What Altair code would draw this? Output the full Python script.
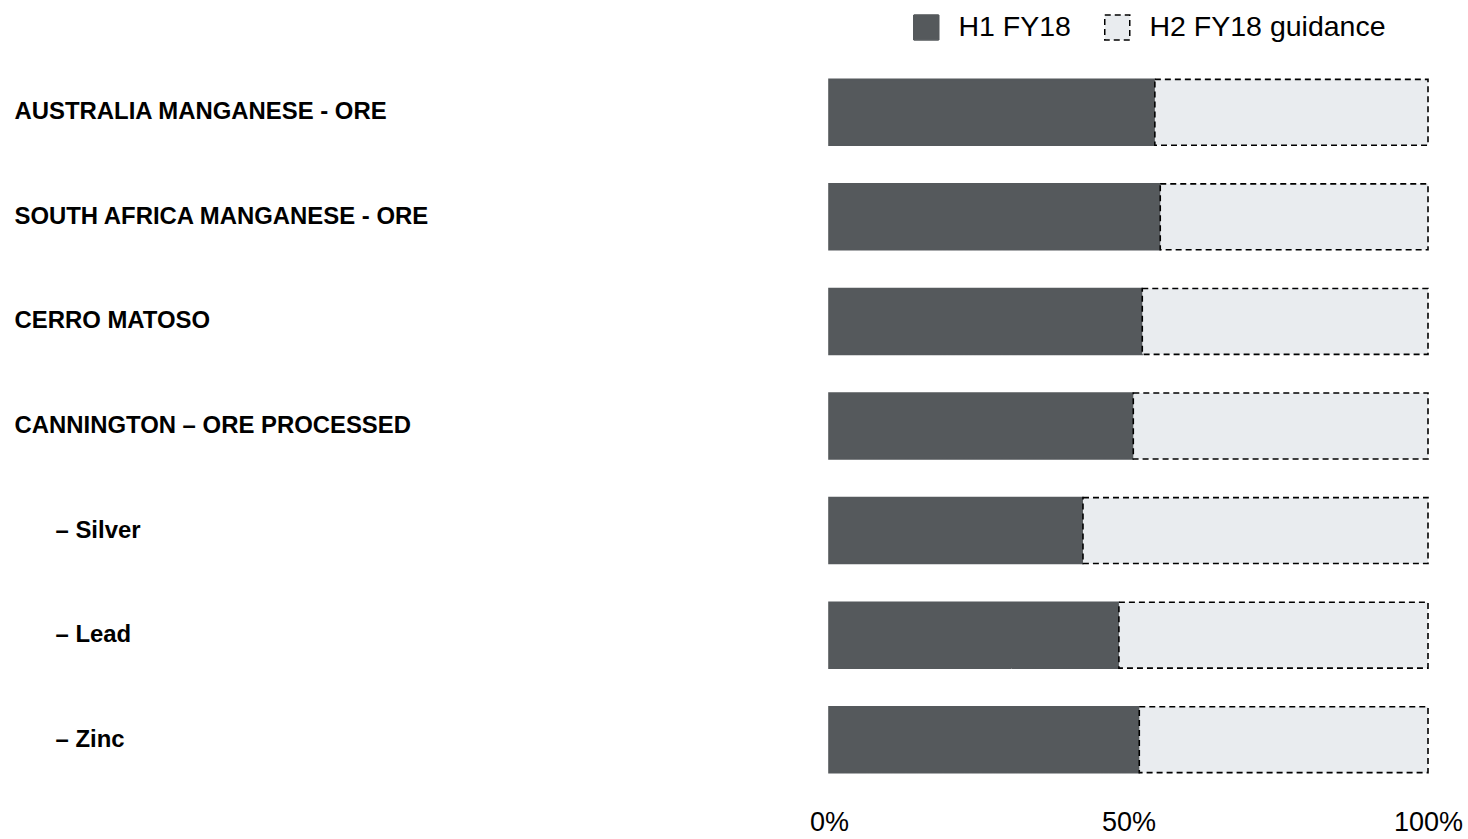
import altair as alt
import pandas as pd

categories = [
    "AUSTRALIA MANGANESE - ORE",
    "SOUTH AFRICA MANGANESE - ORE",
    "CERRO MATOSO",
    "CANNINGTON \u2013 ORE PROCESSED",
    "\u2013 Silver",
    "\u2013 Lead",
    "\u2013 Zinc",
]
h1_share = [0.544, 0.553, 0.523, 0.508, 0.424, 0.484, 0.518]
series_names = ["H1 FY18", "H2 FY18 guidance"]
tick_values = [0, 0.5, 1]

rows = []
for cat, v in zip(categories, h1_share):
    rows.append({"cat": cat, "series": series_names[0], "start": 0.0, "end": v})
    rows.append({"cat": cat, "series": series_names[1], "start": v, "end": 1.0})
df = pd.DataFrame(rows)

dark = "#55595c"
light = "#e9ecef"

chart = alt.Chart(df).mark_bar(strokeWidth=1.6).encode(
    x=alt.X("start:Q", scale=alt.Scale(domain=[0, 1], nice=False),
            axis=alt.Axis(values=tick_values, format=".0%", title=None, grid=False,
                          domain=False, ticks=False, labelFontSize=27,
                          labelPadding=17, labelColor="#000000", labelFlush=False,
                          labelFont="Liberation Sans")),
    x2="end:Q",
    y=alt.Y("cat:N", sort=categories,
            scale=alt.Scale(paddingInner=0.37, paddingOuter=0.185),
            axis=alt.Axis(title=None, domain=False, ticks=False, labelAlign="left",
                          labelPadding={"condition": {"test": "indexof(datum.value, '\u2013 ') == 0",
                                                      "value": 774},
                                        "value": 815},
                          labelFontSize=23.9, labelFontWeight="bold",
                          labelColor="#000000", labelFont="Liberation Sans",
                          labelLimit=800)),
    color=alt.Color("series:N", scale=alt.Scale(domain=series_names, range=[dark, light]),
                    legend=alt.Legend(title=None, orient="none", direction="horizontal",
                                      legendX=83, legendY=-47, symbolType="square",
                                      symbolSize=625, labelFontSize=28.5, labelLimit=500,
                                      labelOffset=18, labelFont="Liberation Sans",
                                      labelColor="#000000", columnPadding=30)),
    stroke=alt.Stroke("series:N", scale=alt.Scale(domain=series_names, range=[dark, "#000000"]),
                      legend=None),
    strokeDash=alt.StrokeDash("series:N", scale=alt.Scale(domain=series_names, range=[[1, 0], [6, 4]]),
                              legend=None),
).properties(
    width=599, height=732,
    padding={"left": 14, "top": 13, "right": 0, "bottom": 0},
).configure_view(stroke=None)

chart.save("out.html", embed_options={"renderer": "svg", "actions": False})
